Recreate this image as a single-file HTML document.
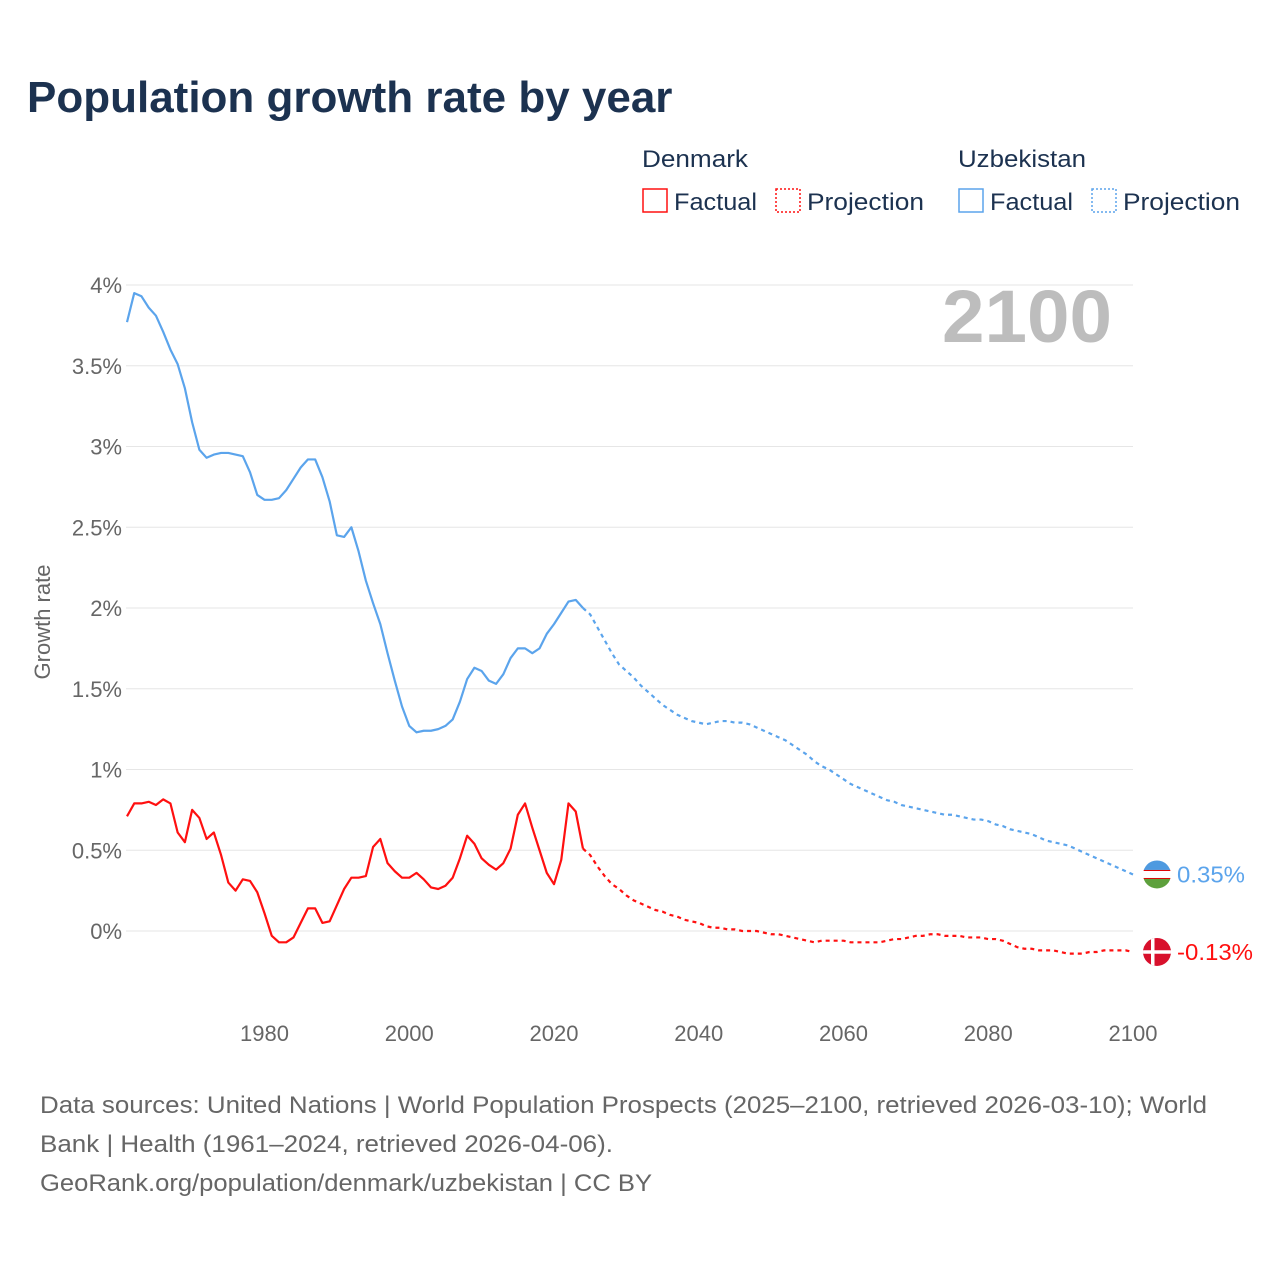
<!DOCTYPE html>
<html><head><meta charset="utf-8">
<style>
body{margin:0;background:#fff;font-family:"Liberation Sans",sans-serif;}
svg text{font-family:"Liberation Sans",sans-serif;}
</style></head>
<body>
<svg id="chart" width="1280" height="1280" viewBox="0 0 1280 1280">
<text x="27" y="112" font-size="44" font-weight="bold" fill="#1c3250">Population growth rate by year</text>
<g>
<text x="642" y="167" font-size="24" fill="#1c3250" textLength="106" lengthAdjust="spacingAndGlyphs">Denmark</text>
<rect x="643" y="189" width="24" height="23" fill="none" stroke="#ff1010" stroke-width="1.5"/>
<text x="674" y="210" font-size="24" fill="#1c3250" textLength="83" lengthAdjust="spacingAndGlyphs">Factual</text>
<rect x="776" y="189" width="24" height="23" fill="none" stroke="#ff1010" stroke-width="1.5" stroke-dasharray="2,2"/>
<text x="807" y="210" font-size="24" fill="#1c3250" textLength="117" lengthAdjust="spacingAndGlyphs">Projection</text>
<text x="958" y="167" font-size="24" fill="#1c3250" textLength="128" lengthAdjust="spacingAndGlyphs">Uzbekistan</text>
<rect x="959" y="189" width="24" height="23" fill="none" stroke="#5ba4ec" stroke-width="1.5"/>
<text x="990" y="210" font-size="24" fill="#1c3250" textLength="83" lengthAdjust="spacingAndGlyphs">Factual</text>
<rect x="1092" y="189" width="24" height="23" fill="none" stroke="#5ba4ec" stroke-width="1.5" stroke-dasharray="2,2"/>
<text x="1123" y="210" font-size="24" fill="#1c3250" textLength="117" lengthAdjust="spacingAndGlyphs">Projection</text>
</g>
<text x="1112" y="342" font-size="74" font-weight="bold" fill="#bdbdbd" text-anchor="end" textLength="170" lengthAdjust="spacingAndGlyphs">2100</text>
<text transform="translate(50,622) rotate(-90)" font-size="22" fill="#666" text-anchor="middle">Growth rate</text>
<g id="grid"></g>
<g id="series"></g>
<g font-size="24" fill="#666">
<text x="40" y="1113" textLength="1167" lengthAdjust="spacingAndGlyphs">Data sources: United Nations | World Population Prospects (2025–2100, retrieved 2026-03-10); World</text>
<text x="40" y="1152" textLength="573" lengthAdjust="spacingAndGlyphs">Bank | Health (1961–2024, retrieved 2026-04-06).</text>
<text x="40" y="1191" textLength="612" lengthAdjust="spacingAndGlyphs">GeoRank.org/population/denmark/uzbekistan | CC BY</text>
</g>
</svg>
<script>
const yTicks=[0,0.5,1,1.5,2,2.5,3,3.5,4];
const yTickLabels=["0%","0.5%","1%","1.5%","2%","2.5%","3%","3.5%","4%"];
const xTicks=[1980,2000,2020,2040,2060,2080,2100];
const startYear=1961;
const uzbFactual=[3.77,3.95,3.93,3.86,3.81,3.71,3.60,3.51,3.36,3.15,2.98,2.93,2.95,2.96,2.96,2.95,2.94,2.84,2.70,2.67,2.67,2.68,2.73,2.80,2.87,2.92,2.92,2.81,2.66,2.45,2.44,2.50,2.35,2.17,2.03,1.90,1.72,1.55,1.39,1.27,1.23,1.24,1.24,1.25,1.27,1.31,1.42,1.56,1.63,1.61,1.55,1.53,1.59,1.69,1.75,1.75,1.72,1.75,1.84,1.90,1.97,2.04,2.05,2.00];
const uzbProjection=[2.00,1.96,1.88,1.80,1.72,1.65,1.61,1.57,1.52,1.48,1.44,1.40,1.37,1.34,1.32,1.30,1.29,1.28,1.29,1.30,1.30,1.29,1.29,1.28,1.26,1.24,1.22,1.20,1.18,1.15,1.12,1.09,1.05,1.02,1.00,0.97,0.94,0.91,0.89,0.87,0.85,0.83,0.81,0.80,0.78,0.77,0.76,0.75,0.74,0.73,0.72,0.72,0.71,0.70,0.69,0.69,0.68,0.66,0.65,0.63,0.62,0.61,0.60,0.58,0.56,0.55,0.54,0.53,0.51,0.49,0.47,0.45,0.43,0.41,0.39,0.37,0.35];
const denFactual=[0.71,0.79,0.79,0.80,0.78,0.815,0.79,0.61,0.55,0.75,0.70,0.57,0.61,0.47,0.30,0.25,0.32,0.31,0.24,0.11,-0.03,-0.07,-0.07,-0.04,0.05,0.14,0.14,0.05,0.06,0.16,0.26,0.33,0.33,0.34,0.52,0.57,0.42,0.37,0.33,0.33,0.36,0.32,0.27,0.26,0.28,0.33,0.45,0.59,0.54,0.45,0.41,0.38,0.42,0.51,0.72,0.79,0.64,0.50,0.36,0.29,0.44,0.79,0.74,0.51];
const denProjection=[0.51,0.47,0.40,0.34,0.29,0.26,0.22,0.19,0.17,0.15,0.13,0.12,0.10,0.09,0.07,0.06,0.05,0.03,0.02,0.02,0.01,0.01,0.00,0.00,0.00,-0.01,-0.02,-0.02,-0.03,-0.04,-0.05,-0.06,-0.07,-0.06,-0.06,-0.06,-0.06,-0.07,-0.07,-0.07,-0.07,-0.07,-0.06,-0.05,-0.05,-0.04,-0.03,-0.03,-0.02,-0.02,-0.03,-0.03,-0.03,-0.04,-0.04,-0.04,-0.05,-0.05,-0.06,-0.08,-0.10,-0.11,-0.11,-0.12,-0.12,-0.12,-0.13,-0.14,-0.14,-0.14,-0.13,-0.13,-0.12,-0.12,-0.12,-0.12,-0.13];
const projStart=2024;
const NS="http://www.w3.org/2000/svg";
const xS=y=>127+(y-1961)*(1133-127)/(2100-1961);
const yS=v=>931-v*161.5;
const grid=document.getElementById('grid'),ser=document.getElementById('series');
function mk(tag,attrs,parent){const e=document.createElementNS(NS,tag);for(const k in attrs)e.setAttribute(k,attrs[k]);parent.appendChild(e);return e;}
yTicks.forEach((t,i)=>{
 const l=mk('line',{x1:126,x2:1133,y1:yS(t),y2:yS(t),stroke:'#e6e6e6','stroke-width':1},grid);
 
 
 const tx=mk('text',{x:122,y:yS(t)+8,'text-anchor':'end','font-size':22,fill:'#666'},grid);
 tx.textContent=yTickLabels[i];
 
 
});
xTicks.forEach(t=>{
 const tx=mk('text',{x:xS(t),y:1041,'text-anchor':'middle','font-size':22,fill:'#666'},grid);
 tx.textContent=t;
 
 
});
function line(vals,y0,color,dash,name){
 const d=vals.map((v,i)=>(i?'L':'M')+xS(y0+i).toFixed(2)+','+yS(v).toFixed(2)).join('');
 const p=mk('path',{d:d,fill:'none',stroke:color,'stroke-width':2.2,'stroke-linejoin':'round'},ser);
 if(dash)p.setAttribute('stroke-dasharray','4,4');
 
 
}
line(uzbFactual,startYear,'#5ba4ec',false,'uzbekistan-factual-line');
line(uzbProjection,projStart,'#5ba4ec',true,'uzbekistan-projection-line');
line(denFactual,startYear,'#ff1010',false,'denmark-factual-line');
line(denProjection,projStart,'#ff1010',true,'denmark-projection-line');
const uLast=uzbProjection[uzbProjection.length-1],dLast=denProjection[denProjection.length-1];
const fx=1157;
const ug=mk('g',{},ser);


const uy=yS(uLast);
const cpu=mk('clipPath',{id:'cu'},ug);mk('circle',{cx:fx,cy:uy,r:14},cpu);
const uc=mk('g',{'clip-path':'url(#cu)'},ug);
mk('rect',{x:fx-14,y:uy-14,width:28,height:9.5,fill:'#4e9ae0'},uc);
mk('rect',{x:fx-14,y:uy-4.5,width:28,height:9,fill:'#fff'},uc);
mk('rect',{x:fx-14,y:uy-4.5,width:28,height:1,fill:'#d00'},uc);
mk('rect',{x:fx-14,y:uy+3.5,width:28,height:1,fill:'#d00'},uc);
mk('rect',{x:fx-14,y:uy+4.5,width:28,height:9.5,fill:'#5da03c'},uc);
const ut=mk('text',{x:1177,y:uy+8,'font-size':23,fill:'#5ba4ec',textLength:68,lengthAdjust:'spacingAndGlyphs'},ser);
ut.textContent=uLast.toFixed(2)+'%';


const dg=mk('g',{},ser);


const dy=yS(dLast);
const cp=mk('clipPath',{id:'cd'},dg);mk('circle',{cx:fx,cy:dy,r:14},cp);
const dc=mk('g',{'clip-path':'url(#cd)'},dg);
mk('rect',{x:fx-14,y:dy-14,width:28,height:28,fill:'#d8102c'},dc);
mk('rect',{x:fx-6,y:dy-14,width:3.5,height:28,fill:'#fff'},dc);
mk('rect',{x:fx-14,y:dy-1.75,width:28,height:3.5,fill:'#fff'},dc);
const dt=mk('text',{x:1177,y:dy+8,'font-size':23,fill:'#ff1010',textLength:76,lengthAdjust:'spacingAndGlyphs'},ser);
dt.textContent=dLast.toFixed(2)+'%';


</script>
</body></html>
